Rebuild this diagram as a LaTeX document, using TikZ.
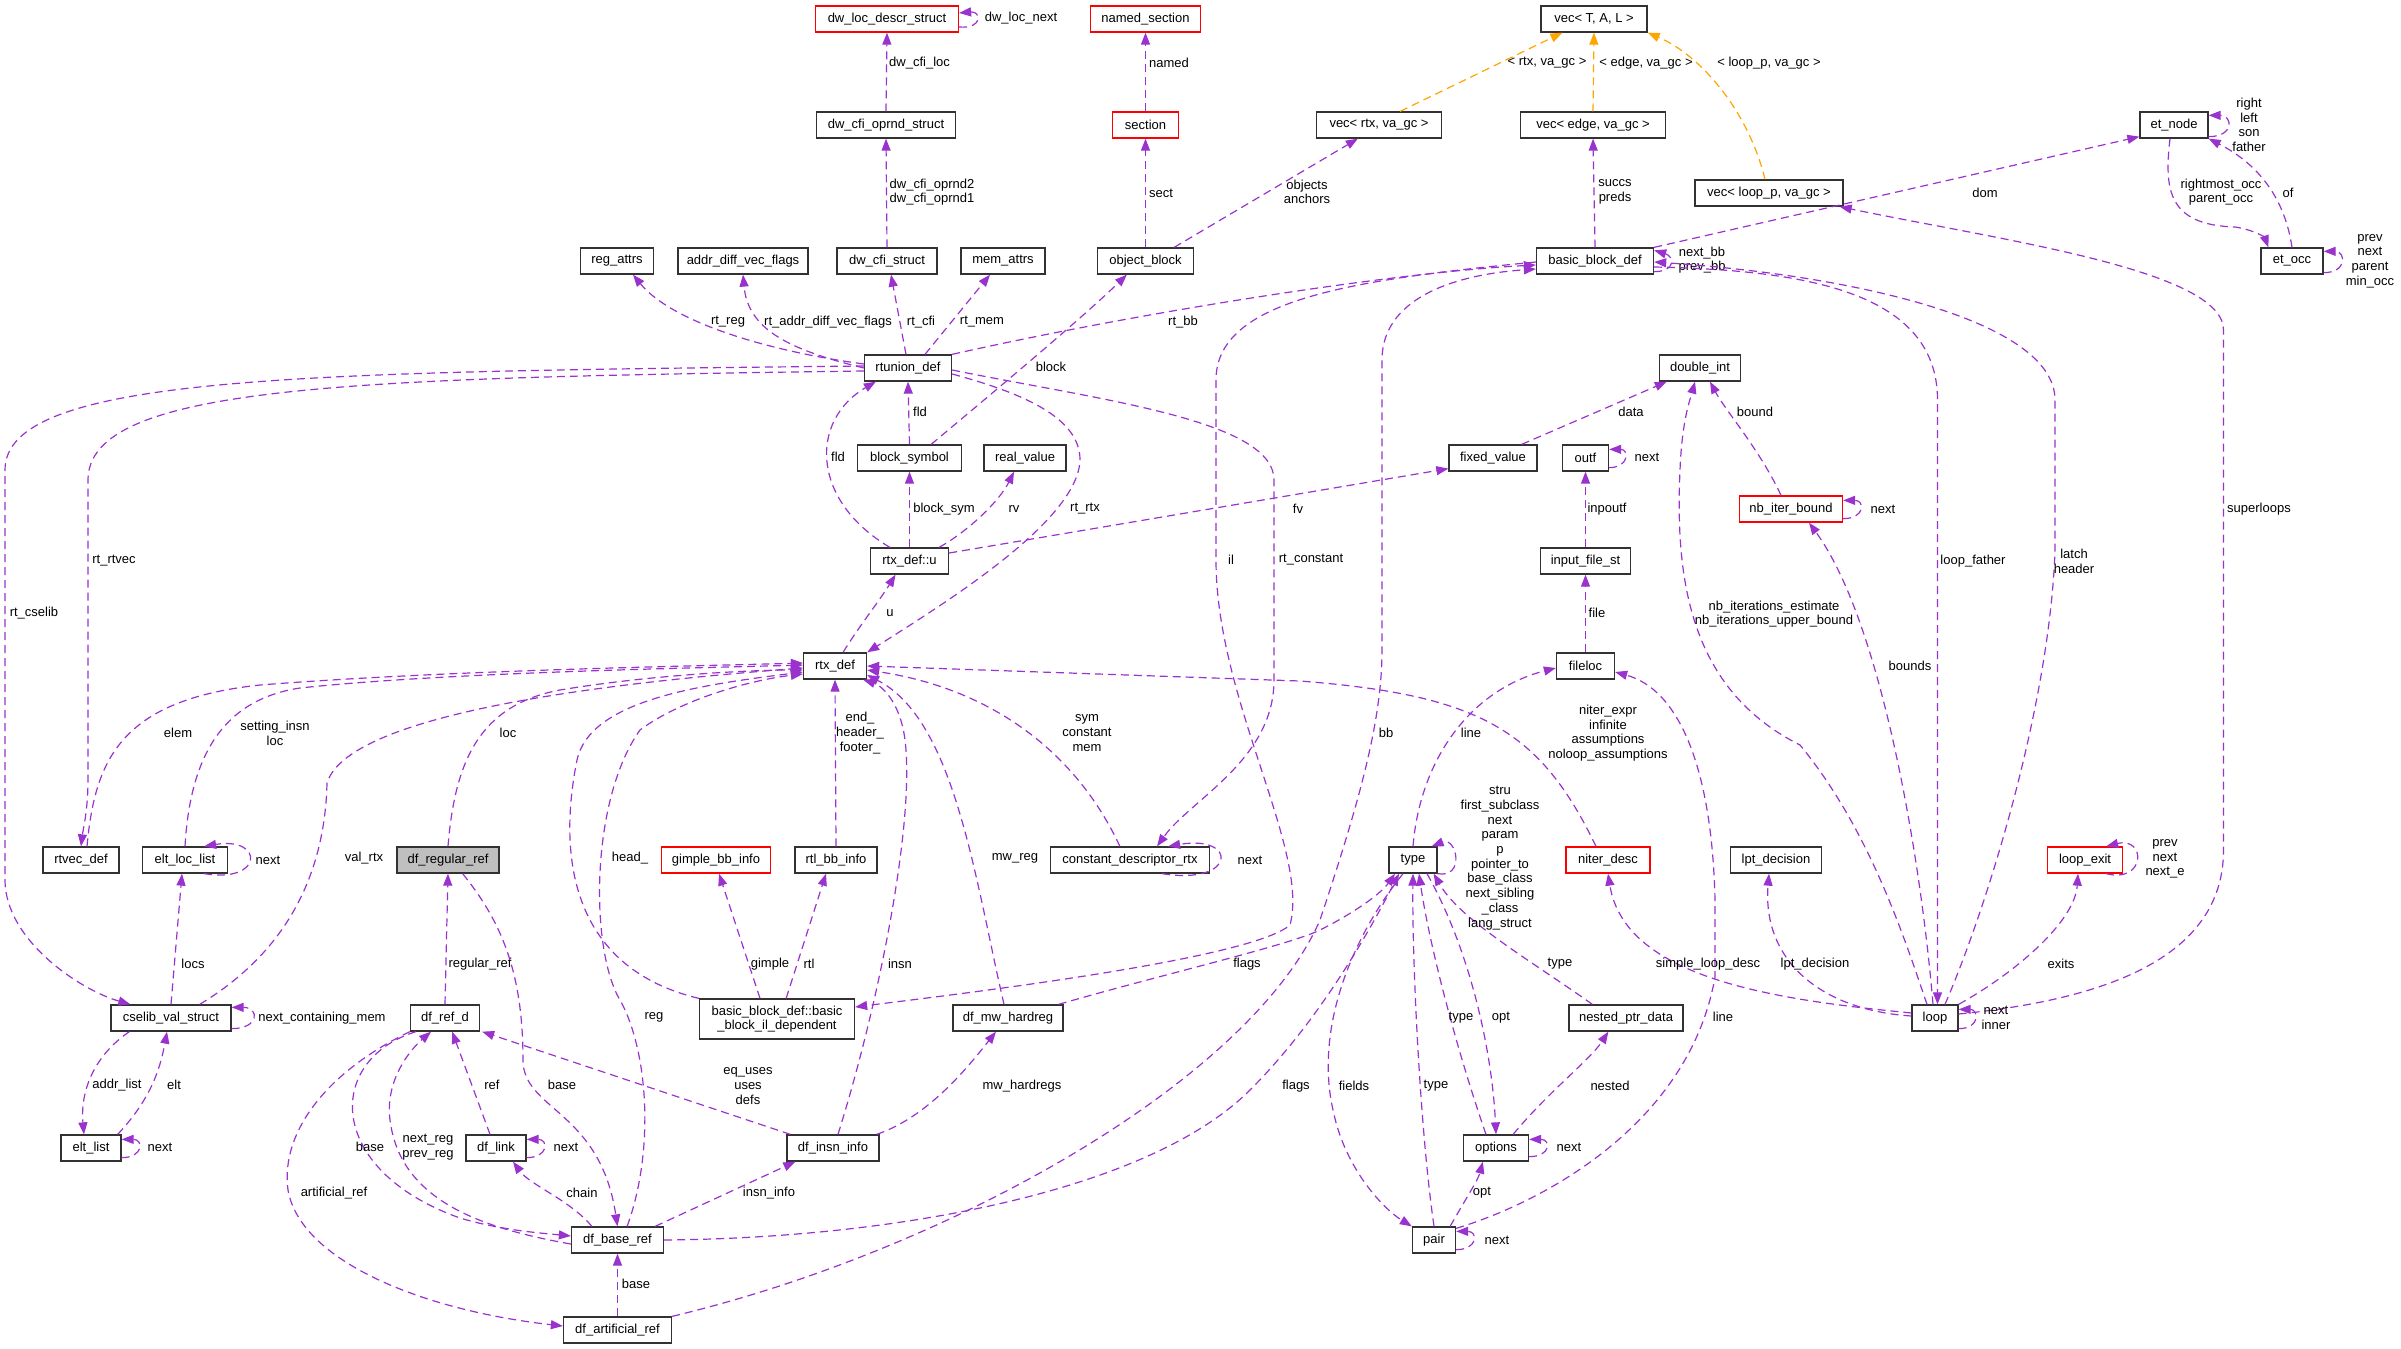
\documentclass[tikz,border=0pt]{standalone}
\usepackage{fontspec}
\setmainfont{Liberation Sans}
\usetikzlibrary{arrows.meta,calc}
\definecolor{memberedge}{RGB}{154,50,205}
\definecolor{tmpledge}{RGB}{255,165,0}
\definecolor{boxline}{RGB}{50,50,50}
\begin{document}
\begin{tikzpicture}[x=1pt,y=-1pt,
  font=\fontsize{13}{14.7}\selectfont,
  cls/.style={draw=boxline,line width=1.3pt,fill=white,minimum height=26pt,inner xsep=2pt,inner ysep=0pt},
  undoc/.style={cls,draw=red},
  focus/.style={cls,fill=black!25},
  member/.style={draw=memberedge,line width=1.2pt,dash pattern=on 8pt off 5pt,-{Triangle[length=12pt,width=9pt]}},
  tmpl/.style={member,draw=tmpledge},
  lbl/.style={align=center,inner sep=0pt}]
\useasboundingbox (0,0) rectangle (2401,1349);

% classes
\node[undoc,minimum width=143] (dld) at (887,19) {dw\_loc\_descr\_struct};
\node[undoc,minimum width=110] (nsec) at (1145.5,19) {named\_section};
\node[cls,minimum width=106] (vecT) at (1594,19) {vec< T, A, L >};
\node[cls,minimum width=139] (dcos) at (886,125) {dw\_cfi\_oprnd\_struct};
\node[undoc,minimum width=66] (sec) at (1145.5,125) {section};
\node[cls,minimum width=125] (vrtx) at (1379,125) {vec< rtx, va\_gc >};
\node[cls,minimum width=145] (vedge) at (1593,125) {vec< edge, va\_gc >};
\node[cls,minimum width=68] (etn) at (2174,125) {et\_node};
\node[cls,minimum width=148] (vloop) at (1769,193) {vec< loop\_p, va\_gc >};
\node[cls,minimum width=73] (regat) at (617,261) {reg\_attrs};
\node[cls,minimum width=130] (adv) at (743,261) {addr\_diff\_vec\_flags};
\node[cls,minimum width=100] (dcs) at (887,261) {dw\_cfi\_struct};
\node[cls,minimum width=84] (mema) at (1003,261) {mem\_attrs};
\node[cls,minimum width=96] (objb) at (1145.5,261) {object\_block};
\node[cls,minimum width=117] (bbd) at (1595,261) {basic\_block\_def};
\node[cls,minimum width=62] (eto) at (2292,261) {et\_occ};
\node[cls,minimum width=87] (rtu) at (908,368) {rtunion\_def};
\node[cls,minimum width=81] (dint) at (1700,368) {double\_int};
\node[cls,minimum width=104] (bsym) at (909.5,458) {block\_symbol};
\node[cls,minimum width=82] (realv) at (1025,458) {real\_value};
\node[cls,minimum width=88] (fixv) at (1493,458) {fixed\_value};
\node[cls,minimum width=46] (outf) at (1585.5,458) {outf};
\node[undoc,minimum width=103] (nbib) at (1791,509) {nb\_iter\_bound};
\node[cls,minimum width=78] (rtxu) at (909.5,561) {rtx\_def::u};
\node[cls,minimum width=90] (ifs) at (1585.5,561) {input\_file\_st};
\node[cls,minimum width=63] (rtx) at (835,666) {rtx\_def};
\node[cls,minimum width=58] (floc) at (1585.5,666) {fileloc};
\node[cls,minimum width=76] (rtvec) at (81,860) {rtvec\_def};
\node[cls,minimum width=85] (ell) at (185,860) {elt\_loc\_list};
\node[focus,minimum width=102] (dfrr) at (448,860) {df\_regular\_ref};
\node[undoc,minimum width=109] (gbb) at (716,860) {gimple\_bb\_info};
\node[cls,minimum width=82] (rtlbb) at (836,860) {rtl\_bb\_info};
\node[cls,minimum width=159] (cdr) at (1130,860) {constant\_descriptor\_rtx};
\node[cls,minimum width=48] (typ) at (1413,860) {type};
\node[undoc,minimum width=84] (nd) at (1608,860) {niter\_desc};
\node[cls,minimum width=91] (lptd) at (1776,860) {lpt\_decision};
\node[undoc,minimum width=75] (lexit) at (2085,860) {loop\_exit};
\node[cls,minimum width=120] (csv) at (171,1018) {cselib\_val\_struct};
\node[cls,minimum width=69] (dfrd) at (445,1018) {df\_ref\_d};
\node[cls,minimum width=155,minimum height=40pt,align=center] (bbil) at (777,1019) {basic\_block\_def::basic\\\_block\_il\_dependent};
\node[cls,minimum width=110] (dfmw) at (1008,1018) {df\_mw\_hardreg};
\node[cls,minimum width=114] (npd) at (1626,1018) {nested\_ptr\_data};
\node[cls,minimum width=46] (lp) at (1935,1018) {loop};
\node[cls,minimum width=60] (eltl) at (91,1148) {elt\_list};
\node[cls,minimum width=60] (dflink) at (496,1148) {df\_link};
\node[cls,minimum width=92] (dfii) at (833,1148) {df\_insn\_info};
\node[cls,minimum width=65] (opts) at (1496,1148) {options};
\node[cls,minimum width=92] (dfbr) at (617.5,1240) {df\_base\_ref};
\node[cls,minimum width=43] (pair) at (1434,1240) {pair};
\node[cls,minimum width=108] (dfar) at (617.5,1330) {df\_artificial\_ref};

% top rows
\draw[member] ($(dld.east)+(0,8)$) .. controls +(24,2) and +(22,-2) .. ($(dld.east)+(0,-6)$);
\node[lbl] (t-dwlocnext) at (1021,18) {dw\_loc\_next};
\draw[member] (dcos.north) -- (dld.south);
\node[lbl,anchor=west] (t-dwcfiloc) at (889,63) {dw\_cfi\_loc};
\draw[member] (dcs.north) -- (dcos.south);
\node[lbl] (t-oprnd) at (932,192) {dw\_cfi\_oprnd2\\dw\_cfi\_oprnd1};
\draw[member] (sec.north) -- (nsec.south);
\node[lbl,anchor=west] (t-named) at (1149,63) {named};
\draw[member] (objb.north) -- (sec.south);
\node[lbl,anchor=west] (t-sect) at (1149,193) {sect};
\draw[member] ($(objb.north east)+(-20,0)$) -- ($(vrtx.south west)+(42,0)$);
\node[lbl] (t-objects) at (1307,192) {objects\\anchors};
\draw[tmpl] ($(vrtx.north east)+(-42,0)$) -- ($(vecT.south west)+(22,0)$);
\node[lbl] (t-vrtx) at (1547,63) {< rtx, va\_gc >};
\draw[tmpl] (vedge.north) -- (vecT.south);
\node[lbl] (t-vedge) at (1646,63) {< edge, va\_gc >};
\draw[tmpl] ($(vloop.north)+(-4,0)$) .. controls (1748,110) and (1700,55) .. (vecT.south east);
\node[lbl] (t-vloop) at (1769,63) {< loop\_p, va\_gc >};
\draw[member] (bbd.north) -- (vedge.south);
\node[lbl] (t-succs) at (1615,192) {succs\\preds};
\draw[member] (bbd.north east) -- ($(etn.south west)+(0,-2)$);
\node[lbl] (t-dom) at (1985,193) {dom};
\draw[member] ($(bbd.south east)+(0,-3)$) .. controls +(22,0) and +(20,6) .. ($(bbd.north east)+(0,3)$);
\node[lbl] (t-nextbb) at (1702,260) {next\_bb\\prev\_bb};
\draw[member] ($(etn.south east)+(0,-2)$) .. controls +(26,0) and +(24,0) .. ($(etn.north east)+(0,4)$);
\node[lbl] (t-etnself) at (2249,125) {right\\left\\son\\father};
\draw[member] ($(etn.south)+(-4,0)$) .. controls (2164,190) and (2168,225) .. (2235,227) .. controls (2255,230) and (2265,238) .. ($(eto.north west)+(8,0)$);
\node[lbl] (t-rmocc) at (2221,192) {rightmost\_occ\\parent\_occ};
\draw[member] (eto.north) .. controls (2285,200) and (2260,165) .. (etn.south east);
\node[lbl] (t-of) at (2288,193) {of};
\draw[member] ($(eto.south east)+(0,-2)$) .. controls +(24,0) and +(22,0) .. ($(eto.north east)+(0,4)$);
\node[lbl] (t-etoself) at (2370,261) {prev\\next\\parent\\min\_occ};

% rtunion_def
\draw[member] ($(rtu.west)+(0,-4)$) .. controls (760,350) and (670,320) .. ($(regat.south)+(16,0)$);
\node[lbl] (t-rtreg) at (728,322) {rt\_reg};
\draw[member] (rtu.west) .. controls (790,350) and (748,330) .. (adv.south);
\node[lbl] (t-rtadv) at (828,322) {rt\_addr\_diff\_vec\_flags};
\draw[member] ($(rtu.north)+(-2,0)$) -- ($(dcs.south)+(4,0)$);
\node[lbl] (t-rtcfi) at (921,322) {rt\_cfi};
\draw[member] ($(rtu.north)+(17,0)$) -- ($(mema.south)+(-13,0)$);
\node[lbl] (t-rtmem) at (982,322) {rt\_mem};
\draw[member] (rtu.north east) .. controls (1150,310) and (1400,272) .. ($(bbd.west)+(0,4)$);
\node[lbl] (t-rtbb) at (1183,322) {rt\_bb};
\draw[member] ($(bsym.north east)+(-31,0)$) .. controls (990,395) and (1080,320) .. ($(objb.south west)+(30,0)$);
\node[lbl] (t-block) at (1051,367) {block};
\draw[member] (bsym.north) -- (rtu.south);
\node[lbl] (t-fld1) at (920,412) {fld};
\draw[member] ($(rtxu.north west)+(20,0)$) .. controls (810,500) and (810,420) .. ($(rtu.south west)+(12,0)$);
\node[lbl] (t-fld2) at (838,457) {fld};
\draw[member] (rtxu.north) -- (bsym.south);
\node[lbl] (t-blocksym) at (944,509) {block\_sym};
\draw[member] ($(rtxu.north east)+(-10,0)$) .. controls (970,530) and (1000,500) .. ($(realv.south)+(-11,0)$);
\node[lbl] (t-rv) at (1014,509) {rv};
\draw[member] ($(rtxu.east)+(0,-8)$) -- ($(fixv.south west)+(0,-3)$);
\node[lbl] (t-fv) at (1298,509) {fv};
\draw[member] ($(rtu.east)+(0,6)$) .. controls (1030,395) and (1080,420) .. (1080,460) .. controls (1078,520) and (950,600) .. (rtx.north east);
\node[lbl] (t-rtrtx) at (1085,509) {rt\_rtx};
\draw[member] ($(rtx.north)+(8,0)$) .. controls (860,625) and (880,600) .. ($(rtxu.south)+(-14,0)$);
\node[lbl] (t-u) at (890,613) {u};
\draw[member] ($(rtu.west)+(0,3)$) .. controls (350,378) and (88,385) .. (88,480) -- (88,780) .. controls (88,810) and (83,830) .. (rtvec.north);
\node[lbl] (t-rtrtvec) at (114,561) {rt\_rtvec};
\draw[member] ($(rtu.west)+(0,-2)$) .. controls (300,372) and (5,375) .. (5,470) -- (5,880) .. controls (5,940) and (80,990) .. ($(csv.north west)+(20,0)$);
\node[lbl] (t-rtcselib) at (34,613) {rt\_cselib};
\draw[member] ($(rtu.east)+(0,2)$) .. controls (1100,400) and (1274,420) .. (1274,480) -- (1274,680) .. controls (1274,760) and (1190,800) .. ($(cdr.north)+(27,0)$);
\node[lbl] (t-rtconst) at (1311,560) {rt\_constant};
\draw[member] ($(bbd.west)+(0,1)$) .. controls (1350,280) and (1216,300) .. (1216,380) -- (1216,560) .. controls (1216,700) and (1310,850) .. (1290,925) .. controls (1250,960) and (950,995) .. ($(bbil.east)+(0,-12)$);
\node[lbl] (t-il) at (1231,560) {il};
\draw[member] (dfar.north east) .. controls (950,1250) and (1250,1080) .. (1320,920) .. controls (1360,800) and (1382,720) .. (1382,650) -- (1382,360) .. controls (1382,300) and (1450,275) .. ($(bbd.west)+(0,8)$);
\node[lbl] (t-bb) at (1386,733) {bb};

% into rtx_def
\draw[member] ($(rtvec.north)+(6,0)$) .. controls (95,760) and (120,700) .. (260,685) .. controls (450,670) and (700,666) .. ($(rtx.west)+(0,-3)$);
\node[lbl] (t-elem) at (178,733) {elem};
\draw[member] (ell.north) .. controls (190,760) and (220,700) .. (300,688) .. controls (450,672) and (700,668) .. ($(rtx.west)+(0,-1)$);
\node[lbl] (t-setting) at (275,733) {setting\_insn\\loc};
\draw[member] ($(csv.north east)+(-32,0)$) .. controls (290,950) and (325,870) .. (327,783) .. controls (340,740) and (450,695) .. ($(rtx.west)+(0,2)$);
\node[lbl] (t-valrtx) at (364,858) {val\_rtx};
\draw[member] (dfrr.north) .. controls (455,760) and (480,705) .. (560,690) .. controls (650,675) and (750,670) .. ($(rtx.west)+(0,4)$);
\node[lbl] (t-loc) at (508,733) {loc};
\draw[member] (bbil.north west) .. controls (580,970) and (555,870) .. (577,760) .. controls (590,700) and (700,685) .. ($(rtx.west)+(0,6)$);
\node[lbl] (t-head) at (630,858) {head\_};
\draw[member] ($(dfbr.north east)+(-37,0)$) .. controls (655,1150) and (648,1050) .. (620,1000) .. controls (590,950) and (590,800) .. (640,730) .. controls (680,700) and (750,680) .. ($(rtx.west)+(0,8)$);
\node[lbl] (t-reg) at (654,1017) {reg};
\draw[member] (rtlbb.north) -- (rtx.south);
\node[lbl] (t-endhf) at (860,733) {end\_\\header\_\\footer\_};
\draw[member] ($(dfmw.north)+(-4,0)$) .. controls (975,880) and (955,720) .. ($(rtx.east)+(0,9)$);
\node[lbl] (t-mwreg) at (1015,858) {mw\_reg};
\draw[member] ($(dfii.north)+(5,0)$) .. controls (880,1000) and (915,820) .. (905,740) .. controls (900,700) and (880,685) .. ($(rtx.south east)+(-4,0)$);
\node[lbl] (t-insn) at (900,964) {insn};
\draw[member] ($(cdr.north west)+(70,0)$) .. controls (1080,760) and (1000,690) .. ($(rtx.east)+(0,4)$);
\node[lbl] (t-symconst) at (1087,733) {sym\\constant\\mem};
\draw[member] ($(cdr.south east)+(-48,0)$) .. controls +(75,12) and +(70,-12) .. ($(cdr.north east)+(-42,0)$);
\node[lbl] (t-cdrnext) at (1250,860) {next};
\draw[member] ($(nd.north)+(-12,0)$) .. controls (1540,730) and (1480,695) .. (1300,681) -- (rtx.east);
\node[lbl] (t-niter) at (1608,733) {niter\_expr\\infinite\\assumptions\\noloop\_assumptions};

% cselib and df
\draw[member] ($(ell.south east)+(-24,0)$) .. controls +(60,10) and +(60,-10) .. ($(ell.north east)+(-24,0)$);
\node[lbl] (t-ellnext) at (268,860) {next};
\draw[member] (csv.north) -- ($(ell.south)+(-3,0)$);
\node[lbl] (t-locs) at (193,964) {locs};
\draw[member] ($(csv.south east)+(0,-3)$) .. controls +(28,0) and +(28,0) .. ($(csv.north east)+(0,3)$);
\node[lbl] (t-csvnext) at (322,1018) {next\_containing\_mem};
\draw[member] ($(csv.south west)+(19,0)$) .. controls (95,1055) and (80,1090) .. ($(eltl.north)+(-7,0)$);
\node[lbl] (t-addrlist) at (117,1085) {addr\_list};
\draw[member] ($(eltl.north east)+(-4,0)$) .. controls (150,1100) and (160,1070) .. ($(csv.south)+(-4,0)$);
\node[lbl] (t-elt) at (174,1085) {elt};
\draw[member] ($(eltl.south east)+(0,-4)$) .. controls +(22,0) and +(22,0) .. ($(eltl.north east)+(0,5)$);
\node[lbl] (t-eltlnext) at (160,1147) {next};
\draw[member] (dfrd.north) -- (dfrr.south);
\node[lbl] (t-regref) at (480,964) {regular\_ref};
\draw[member] ($(dfrr.south east)+(-37,0)$) .. controls (500,920) and (523,970) .. (523,1060) .. controls (523,1110) and (600,1110) .. (dfbr.north);
\node[lbl] (t-base1) at (562,1085) {base};
\draw[member] ($(dfrd.south west)+(6,0)$) .. controls (325,1060) and (325,1170) .. (460,1218) .. controls (500,1230) and (540,1233) .. ($(dfbr.west)+(0,-4)$);
\node[lbl] (t-base2) at (370,1147) {base};
\draw[member] ($(dfbr.west)+(0,4)$) .. controls (480,1228) and (400,1200) .. (390,1120) .. controls (385,1080) and (410,1050) .. ($(dfrd.south)+(-14,0)$);
\node[lbl] (t-nextreg) at (428,1147) {next\_reg\\prev\_reg};
\draw[member] ($(dflink.north)+(-6,0)$) -- ($(dfrd.south east)+(-28,0)$);
\node[lbl] (t-ref) at (492,1085) {ref};
\draw[member] ($(dflink.south east)+(0,-4)$) .. controls +(22,0) and +(22,0) .. ($(dflink.north east)+(0,5)$);
\node[lbl] (t-linknext) at (566,1147) {next};
\draw[member] ($(dfbr.north west)+(21,0)$) .. controls (570,1200) and (530,1185) .. ($(dflink.south)+(17,0)$);
\node[lbl] (t-chain) at (582,1193) {chain};
\draw[member] ($(dfii.north west)+(4,0)$) -- ($(dfrd.south east)+(2,0)$);
\node[lbl] (t-equses) at (748,1086) {eq\_uses\\uses\\defs};
\draw[member] ($(dfbr.north east)+(-9,0)$) -- ($(dfii.south west)+(9,0)$);
\node[lbl] (t-insninfo) at (769,1193) {insn\_info};
\draw[member] (dfrd.south west) .. controls (330,1070) and (280,1130) .. (288,1190) .. controls (300,1260) and (420,1310) .. ($(dfar.west)+(0,-4)$);
\node[lbl] (t-artref) at (334,1193) {artificial\_ref};
\draw[member] (dfar.north) -- (dfbr.south);
\node[lbl] (t-base3) at (636,1284) {base};
\draw[member] ($(bbil.north)+(-17,0)$) -- ($(gbb.south)+(3,0)$);
\node[lbl] (t-gimple) at (770,964) {gimple};
\draw[member] ($(bbil.north east)+(-69,0)$) -- ($(rtlbb.south)+(-10,0)$);
\node[lbl] (t-rtl) at (809,964) {rtl};
\draw[member] ($(dfii.north east)+(-3,0)$) .. controls (928,1117) and (968,1067) .. ($(dfmw.south)+(-12,0)$);
\node[lbl] (t-mwhard) at (1022,1086) {mw\_hardregs};

% type, options, pair
\draw[member] (dfbr.east) .. controls (900,1238) and (1150,1190) .. (1250,1090) .. controls (1320,1020) and (1370,930) .. ($(typ.south)+(-14,0)$);
\node[lbl] (t-flags2) at (1296,1086) {flags};
\draw[member] ($(dfmw.north east)+(-5,0)$) .. controls (1160,975) and (1290,945) .. (1320,930) .. controls (1350,915) and (1380,895) .. ($(typ.south)+(-18,0)$);
\node[lbl] (t-flags1) at (1247,964) {flags};
\draw[member] ($(typ.south)+(-10,0)$) .. controls (1350,940) and (1315,1030) .. (1333,1110) .. controls (1345,1170) and (1385,1210) .. (pair.north west);
\node[lbl] (t-fields) at (1354,1086) {fields};
\draw[member] ($(typ.south)+(14,0)$) .. controls (1470,950) and (1492,1050) .. (opts.north);
\node[lbl] (t-opt1) at (1501,1018) {opt};
\draw[member] ($(opts.north)+(-10,0)$) .. controls (1460,1060) and (1430,950) .. ($(typ.south)+(6,0)$);
\node[lbl] (t-type2) at (1461,1018) {type};
\draw[member] (pair.north) .. controls (1420,1130) and (1412,960) .. (typ.south);
\node[lbl] (t-type3) at (1436,1086) {type};
\draw[member] ($(npd.north west)+(24,0)$) .. controls (1530,960) and (1460,920) .. ($(typ.south east)+(-4,0)$);
\node[lbl] (t-type1) at (1560,964) {type};
\draw[member] (typ.south east) .. controls +(28,5) and +(25,-10) .. ($(typ.north east)+(-6,0)$);
\node[lbl] (t-typeself) at (1500,858) {stru\\first\_subclass\\next\\param\\p\\pointer\_to\\base\_class\\next\_sibling\\\_class\\lang\_struct};
\draw[member] (typ.north) .. controls (1420,760) and (1470,690) .. ($(floc.west)+(0,2)$);
\node[lbl] (t-line1) at (1471,733) {line};
\draw[member] ($(pair.north east)+(-6,0)$) .. controls (1465,1200) and (1478,1180) .. ($(opts.south west)+(20,0)$);
\node[lbl] (t-opt2) at (1482,1193) {opt};
\draw[member] ($(opts.south east)+(0,-5)$) .. controls +(22,0) and +(22,0) .. ($(opts.north east)+(0,5)$);
\node[lbl] (t-optsnext) at (1569,1147) {next};
\draw[member] ($(opts.north east)+(-16,0)$) .. controls (1550,1090) and (1590,1060) .. ($(npd.south west)+(40,0)$);
\node[lbl] (t-nested) at (1610,1086) {nested};
\draw[member] ($(pair.south east)+(0,-4)$) .. controls +(22,0) and +(22,0) .. ($(pair.north east)+(0,5)$);
\node[lbl] (t-pairnext) at (1497,1240) {next};
\draw[member] ($(pair.north east)+(0,2)$) .. controls (1550,1200) and (1690,1120) .. (1715,977) -- (1715,900) .. controls (1712,770) and (1680,690) .. ($(floc.east)+(0,6)$);
\node[lbl] (t-line2) at (1723,1017) {line};
\draw[member] (floc.north) -- (ifs.south);
\node[lbl] (t-file) at (1597,613) {file};
\draw[member] (ifs.north) -- (outf.south);
\node[lbl] (t-inpoutf) at (1607,509) {inpoutf};
\draw[member] ($(outf.south east)+(0,-4)$) .. controls +(20,0) and +(20,0) .. ($(outf.north east)+(0,5)$);
\node[lbl] (t-outfnext) at (1647,457) {next};

% double_int and loop
\draw[member] ($(fixv.north east)+(-16,0)$) -- ($(dint.south west)+(8,0)$);
\node[lbl] (t-data) at (1631,412) {data};
\draw[member] ($(nbib.north)+(-10,0)$) .. controls (1760,450) and (1725,410) .. ($(dint.south)+(10,0)$);
\node[lbl] (t-bound) at (1755,412) {bound};
\draw[member] ($(nbib.south east)+(0,-4)$) .. controls +(22,0) and +(22,0) .. ($(nbib.north east)+(0,5)$);
\node[lbl] (t-nbnext) at (1883,509) {next};
\draw[member] ($(lp.north)+(-8,0)$) .. controls (1905,940) and (1870,830) .. (1800,745) .. controls (1690,690) and (1675,580) .. (1680,470) .. controls (1682,420) and (1690,400) .. ($(dint.south)+(-5,0)$);
\node[lbl] (t-nbiter) at (1774,614) {nb\_iterations\_estimate\\nb\_iterations\_upper\_bound};
\draw[member] ($(lp.north)+(-2,0)$) .. controls (1920,850) and (1880,620) .. ($(nbib.south)+(18,0)$);
\node[lbl] (t-bounds) at (1910,666) {bounds};
\draw[member] ($(bbd.east)+(0,6)$) .. controls (1800,270) and (1937.5,290) .. (1937.5,400) -- ($(lp.north)+(2.5,0)$);
\node[lbl] (t-loopfather) at (1973,561) {loop\_father};
\draw[member] ($(lp.north)+(10,0)$) .. controls (1990,900) and (2050,700) .. (2055,550) -- (2055,400) .. controls (2055,320) and (1850,275) .. ($(bbd.east)+(0,1)$);
\node[lbl] (t-latch) at (2074,561) {latch\\header};
\draw[member] ($(lp.east)+(0,-4)$) .. controls (2100,1000) and (2223.5,960) .. (2223.5,850) -- (2223.5,330) .. controls (2223.5,270) and (2000,240) .. ($(vloop.south east)+(-4,0)$);
\node[lbl] (t-superloops) at (2259,509) {superloops};
\draw[member] ($(lp.south east)+(0,-3)$) .. controls +(22,0) and +(20,0) .. ($(lp.north east)+(0,5)$);
\node[lbl] (t-loopself) at (1996,1018) {next\\inner};
\draw[member] ($(lp.west)+(0,-5)$) .. controls (1780,1000) and (1625,980) .. (nd.south);
\node[lbl] (t-simple) at (1708,964) {simple\_loop\_desc};
\draw[member] ($(lp.west)+(0,-2)$) .. controls (1820,1010) and (1762,960) .. ($(lptd.south)+(-7,0)$);
\node[lbl] (t-lpt) at (1815,964) {lpt\_decision};
\draw[member] (lp.north east) .. controls (2020,970) and (2075,920) .. ($(lexit.south)+(-7,0)$);
\node[lbl] (t-exits) at (2061,964) {exits};
\draw[member] ($(lexit.south east)+(-17,0)$) .. controls +(40,10) and +(40,-10) .. ($(lexit.north east)+(-17,0)$);
\node[lbl] (t-lexitself) at (2165,859) {prev\\next\\next\_e};
\end{tikzpicture}
\end{document}
